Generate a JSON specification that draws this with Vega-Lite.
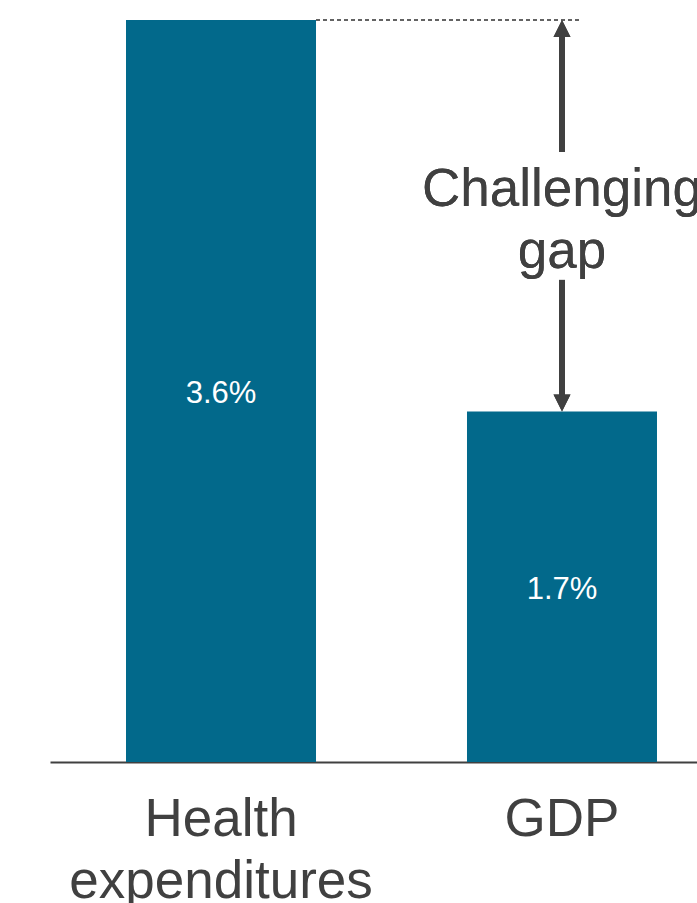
{
  "$schema": "https://vega.github.io/schema/vega-lite/v6.json",
  "autosize": "none",
  "width": 683,
  "height": 742,
  "padding": {"left": 50, "top": 20, "right": -36, "bottom": 141},
  "background": "white",
  "config": {"view": {"stroke": null}, "font": "Liberation Sans"},
  "data": {"values": [
    {"category": "Health expenditures", "value": 3.6, "label": "3.6%"},
    {"category": "GDP", "value": 1.7, "label": "1.7%"}
  ]},
  "encoding": {
    "x": {
      "field": "category", "type": "nominal", "sort": null,
      "scale": {"paddingInner": 0.4428, "paddingOuter": 0.2229},
      "axis": {
        "title": null, "ticks": false, "tickSize": 0, "labelPadding": 31,
        "labelAngle": 0, "labelFontSize": 53, "labelColor": "#404040",
        "labelFont": "Liberation Sans", "labelLineHeight": 62, "labelLimit": 500,
        "labelExpr": "split(datum.label, ' ')",
        "domainColor": "#404040", "domainWidth": 2
      }
    }
  },
  "layer": [
    {
      "mark": {"type": "rule", "color": "#595959", "strokeWidth": 1.5, "strokeDash": [4, 3], "x2Offset": 17},
      "encoding": {
        "x": {"datum": "Health expenditures", "bandPosition": 1},
        "x2": {"datum": "GDP"},
        "y": {"datum": 3.6, "type": "quantitative", "scale": {"domain": [0, 3.6], "nice": false, "zero": true}, "axis": null}
      }
    },
    {
      "mark": {"type": "bar", "color": "#02698b"},
      "encoding": {
        "y": {"field": "value", "type": "quantitative"}
      }
    },
    {
      "mark": {"type": "text", "color": "white", "fontSize": 31, "font": "Liberation Sans", "baseline": "middle", "align": "center",
        "yOffset": {"expr": "(scale('y', 0) - scale('y', datum.value)) / 2 + 3"}},
      "encoding": {
        "y": {"field": "value", "type": "quantitative"},
        "text": {"field": "label"}
      }
    },
    {
      "mark": {"type": "rule", "color": "#404040", "strokeWidth": 6},
      "encoding": {
        "x": {"datum": "GDP"},
        "y": {"datum": 3.55},
        "y2": {"datum": 2.96}
      }
    },
    {
      "mark": {"type": "rule", "color": "#404040", "strokeWidth": 6},
      "encoding": {
        "x": {"datum": "GDP"},
        "y": {"datum": 2.339},
        "y2": {"datum": 1.75}
      }
    },
    {
      "mark": {"type": "point", "filled": true, "color": "#404040", "opacity": 1, "size": 289, "shape": "M0,0L1,2L-1,2Z"},
      "encoding": {
        "x": {"datum": "GDP"},
        "y": {"datum": 3.6}
      }
    },
    {
      "mark": {"type": "point", "filled": true, "color": "#404040", "opacity": 1, "size": 289, "shape": "M0,0L1,-2L-1,-2Z"},
      "encoding": {
        "x": {"datum": "GDP"},
        "y": {"datum": 1.7}
      }
    },
    {
      "mark": {"type": "text", "text": ["Challenging", "gap"], "color": "#404040", "fontSize": 53, "font": "Liberation Sans", "baseline": "alphabetic", "align": "center", "lineHeight": 62},
      "encoding": {
        "x": {"datum": "GDP"},
        "y": {"datum": 2.698}
      }
    }
  ]
}
